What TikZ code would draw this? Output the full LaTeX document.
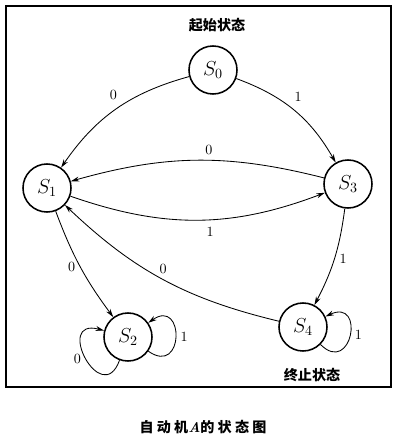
\documentclass[tikz,border=0pt]{standalone}
\usepackage{fontspec}
\newfontfamily\cjk{Noto Sans CJK SC}
\usetikzlibrary{arrows.meta}
\begin{document}
\begin{tikzpicture}[x=0.025cm, y=0.025cm, >={Stealth[length=6pt,width=3.5pt]},
	state/.style={draw, circle, line width=1.1pt, minimum size=1.2cm, inner sep=0pt, font=\Large},
	edge/.style={->, line width=0.6pt},
	tag/.style={font=\cjk\bfseries}]
	\useasboundingbox (0,0) rectangle (400,-446);
	\draw[line width=1.1pt] (6,-6) rectangle (391,-387);
	% states
	\node[state] (s0) at (213,-70) {$S_0$};
	\node[state] (s1) at (47,-188) {$S_1$};
	\node[state] (s3) at (348,-184) {$S_3$};
	\node[state] (s2) at (128,-337) {$S_2$};
	\node[state] (s4) at (303,-327) {$S_4$};
	\node[tag] (start) at (217,-25) {起始状态};
	\node[tag] (final) at (312,-375) {终止状态};
	\node[tag] (title) at (203,-427) {自 动 机{\normalfont\bfseries\itshape A}的 状 态 图};
	% transitions
	\draw[edge] (s0) to[bend right=20] node[pos=0.45, above left] {0} (s1);
	\draw[edge] (s0) to[bend left=20] node[pos=0.45, above right] {1} (s3);
	\draw[edge] (s3) to[bend right=15] node[pos=0.45, above] {0} (s1);
	\draw[edge] (s1) to[bend right=20] node[pos=0.55, below=2pt] {1} (s3);
	\draw[edge] (s1) to[bend right=8] node[left] {0} (s2);
	\draw[edge] (s4) to[bend left=15] node[above] {0} (s1);
	\draw[edge] (s3) to[bend left=10] node[right] {1} (s4);
	\draw[edge] (s2) to[out=250, in=165, looseness=4] node[left] {0} (s2);
	\draw[edge] (s2) to[out=-35, in=35, looseness=4] node[right] {1} (s2);
	\draw[edge] (s4) to[out=-45, in=25, looseness=4] node[right] {1} (s4);
\end{tikzpicture}
\end{document}
